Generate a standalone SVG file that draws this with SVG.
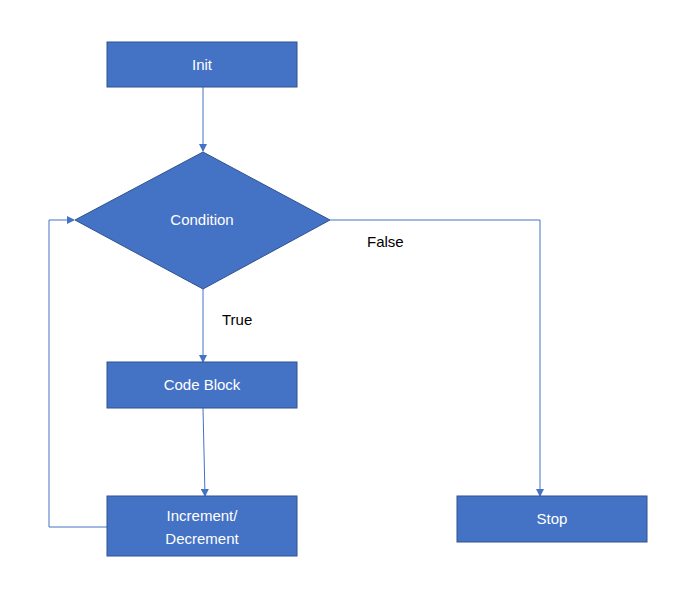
<svg xmlns="http://www.w3.org/2000/svg" width="676" height="603" viewBox="0 0 676 603">
<style>
.n{fill:#4472C4;stroke:#2F528F;stroke-width:1}
.t{fill:#fff;font-family:"Liberation Sans",Arial,sans-serif;font-size:15px;text-anchor:middle}
.l{fill:#000;font-family:"Liberation Sans",Arial,sans-serif;font-size:15px}
.c{fill:none;stroke:#4472C4;stroke-width:1;marker-end:url(#a)}
</style>
<defs><marker id="a" markerWidth="8" markerHeight="8" refX="7" refY="4" orient="auto" markerUnits="userSpaceOnUse"><path d="M0,0 L8,4 L0,8 z" fill="#4472C4"/></marker></defs>
<rect width="676" height="603" fill="#fff"/>
<g id="connectors">
<path class="c" d="M203,87 V151"/>
<path class="c" d="M203,289 V362"/>
<path class="c" d="M203,408 L205,496"/>
<path class="c" d="M107,527 H49 V220 H74"/>
<path class="c" d="M330,220 H540 V496"/>
<text class="l" x="367" y="247">False</text>
<text class="l" x="222" y="325">True</text>
</g>
<g id="init"><rect class="n" x="107" y="42" width="190" height="45"/><text class="t" x="202" y="70">Init</text></g>
<g id="condition"><polygon class="n" points="75,220 203,152 330,220 203,289"/><text class="t" x="202" y="225">Condition</text></g>
<g id="codeblock"><rect class="n" x="107" y="362" width="190" height="46"/><text class="t" x="202" y="390">Code Block</text></g>
<g id="increment"><rect class="n" x="107" y="496" width="190" height="60"/><text class="t" x="202" y="521">Increment/</text><text class="t" x="202" y="544">Decrement</text></g>
<g id="stop"><rect class="n" x="457" y="496" width="190" height="46"/><text class="t" x="552" y="524">Stop</text></g>
</svg>
